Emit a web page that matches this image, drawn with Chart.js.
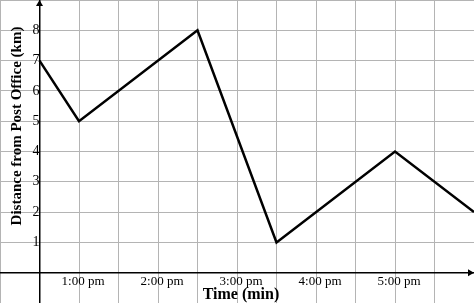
<!DOCTYPE html>
<html>
<head>
<meta charset="utf-8">
<script src="https://cdn.jsdelivr.net/npm/chart.js@4.4.1/dist/chart.umd.min.js"></script>
<style>
  html, body { margin: 0; padding: 0; background: #fff; }
  #wrap { width: 474px; height: 303px; }
</style>
</head>
<body>
<div id="wrap"><canvas id="chart" width="474" height="303"></canvas></div>
<script>
// time steps (half hours from 12:30 pm) and distance in km
const timeSteps = [0, 1, 4, 6, 9, 11];
const distances = [7, 5, 8, 1, 4, 2];
const xTickPositions = [1, 3, 5, 7, 9];
const xTickLabels = ['1:00 pm', '2:00 pm', '3:00 pm', '4:00 pm', '5:00 pm'];
const yTickLabels = [1, 2, 3, 4, 5, 6, 7, 8];

const serif = "'Liberation Serif', 'DejaVu Serif', serif";

// axis titles + arrow heads
const extras = {
    id: 'extras',
    afterDraw(chart) {
        const ctx = chart.ctx;
        const xs = chart.scales.x, ys = chart.scales.y;
        const x0 = xs.getPixelForValue(0);
        const y0 = ys.getPixelForValue(0);
        ctx.save();
        ctx.fillStyle = '#000';
        // arrow on top of y axis
        ctx.beginPath();
        ctx.moveTo(x0, 0);
        ctx.lineTo(x0 - 3.5, 6);
        ctx.lineTo(x0 + 3.5, 6);
        ctx.closePath();
        ctx.fill();
        // arrow at right of x axis
        const xr = chart.width;
        ctx.beginPath();
        ctx.moveTo(xr, y0);
        ctx.lineTo(xr - 6, y0 - 3.5);
        ctx.lineTo(xr - 6, y0 + 3.5);
        ctx.closePath();
        ctx.fill();

        ctx.textAlign = 'center';
        ctx.textBaseline = 'alphabetic';
        ctx.font = 'bold 16px ' + serif;
        ctx.fillText('Time (min)', 241, 299);
        ctx.font = 'bold 15px ' + serif;
        ctx.translate(21, 126);
        ctx.rotate(-Math.PI / 2);
        ctx.fillText('Distance from Post Office (km)', 0, 0);
        ctx.restore();
    }
};

// positioned axes still reserve label padding inside the area, drop it
function noPadding(scale) {
    scale.paddingLeft = 0;
    scale.paddingRight = 0;
    scale.paddingTop = 0;
    scale.paddingBottom = 0;
}

const ctx = document.getElementById('chart').getContext('2d');
new Chart(ctx, {
    type: 'line',
    data: {
        datasets: [{
            data: timeSteps.map((t, i) => ({ x: t, y: distances[i] })),
            borderColor: '#000',
            borderWidth: 2.5,
            pointRadius: 0,
            tension: 0,
            fill: false
        }]
    },
    options: {
        responsive: false,
        animation: false,
        layout: { padding: 0, autoPadding: false },
        plugins: {
            legend: { display: false },
            tooltip: { enabled: false }
        },
        scales: {
            x: {
                type: 'linear',
                min: -1,
                max: 11,
                position: { y: 0 },
                afterFit: noPadding,
                grid: { color: '#b4b4b4', lineWidth: 1, drawTicks: false },
                border: { color: '#000', width: 1.5 },
                ticks: {
                    stepSize: 1,
                    autoSkip: false,
                    maxRotation: 0,
                    padding: 1,
                    labelOffset: 4,
                    color: '#000',
                    font: { family: serif, size: 13 },
                    callback: function(v) {
                        const i = xTickPositions.indexOf(v);
                        return i >= 0 ? xTickLabels[i] : '';
                    }
                }
            },
            y: {
                type: 'linear',
                min: -1,
                max: 9,
                position: { x: 0 },
                afterFit: noPadding,
                grid: { color: '#b4b4b4', lineWidth: 1, drawTicks: false },
                border: { color: '#000', width: 1.5 },
                ticks: {
                    stepSize: 1,
                    autoSkip: false,
                    padding: 5,
                    color: '#000',
                    font: { family: serif, size: 14 },
                    callback: function(v) {
                        return yTickLabels.includes(v) ? String(v) : '';
                    }
                }
            }
        }
    },
    plugins: [extras]
});
</script>
</body>
</html>
